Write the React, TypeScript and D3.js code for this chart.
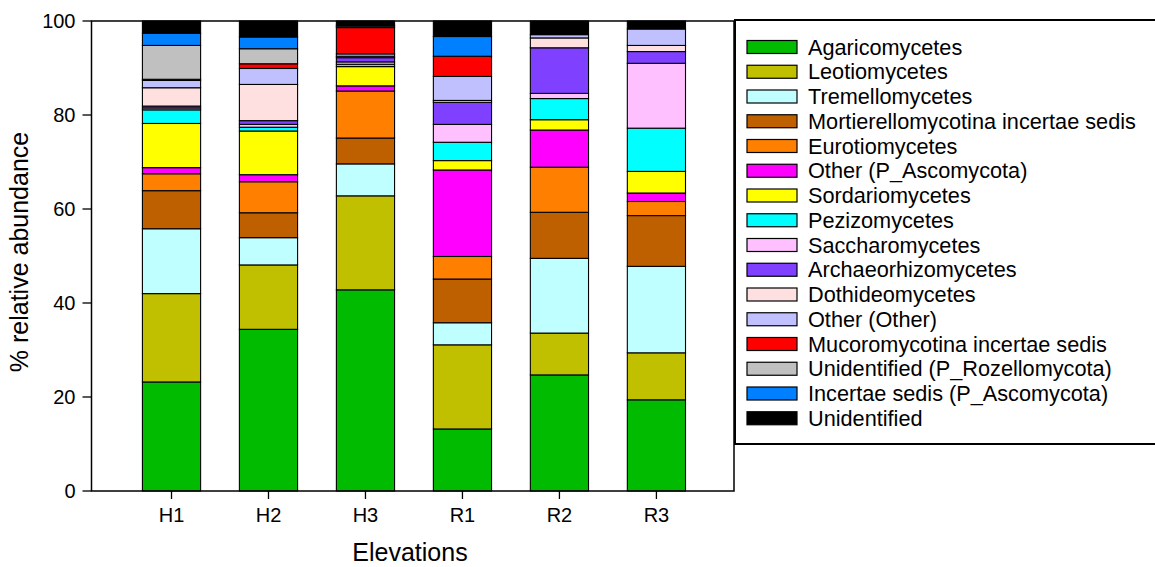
import React from "react";
import * as d3 from "d3";

const categories = ["H1", "H2", "H3", "R1", "R2", "R3"];

const seriesNames = [
  "Agaricomycetes",
  "Leotiomycetes",
  "Tremellomycetes",
  "Mortierellomycotina incertae sedis",
  "Eurotiomycetes",
  "Other (P_Ascomycota)",
  "Sordariomycetes",
  "Pezizomycetes",
  "Saccharomycetes",
  "Archaeorhizomycetes",
  "Dothideomycetes",
  "Other (Other)",
  "Mucoromycotina incertae sedis",
  "Unidentified (P_Rozellomycota)",
  "Incertae sedis (P_Ascomycota)",
  "Unidentified",
];

const agaricomycetes = [23.2, 34.4, 42.8, 13.2, 24.7, 19.4];
const leotiomycetes = [18.8, 13.7, 20.0, 17.9, 8.9, 10.0];
const tremellomycetes = [13.8, 5.8, 6.8, 4.7, 15.9, 18.4];
const mortierellomycotina = [8.1, 5.3, 5.5, 9.3, 9.8, 10.8];
const eurotiomycetes = [3.6, 6.6, 10.0, 4.8, 9.6, 3.0];
const otherAscomycota = [1.3, 1.5, 1.1, 18.4, 7.9, 1.8];
const sordariomycetes = [9.4, 9.3, 4.1, 2.0, 2.2, 4.6];
const pezizomycetes = [2.9, 0.8, 0.5, 3.9, 4.5, 9.2];
const saccharomycetes = [0.4, 0.6, 0.5, 3.8, 1.1, 13.8];
const archaeorhizomycetes = [0.4, 0.8, 0.9, 4.7, 9.7, 2.5];
const dothideomycetes = [3.9, 7.7, 0.3, 0.4, 2.1, 1.3];
const otherOther = [1.55, 3.4, 0.5, 5.1, 0.7, 3.5];
const mucoromycotina = [0.25, 1.0, 5.6, 4.3, 0, 0];
const rozellomycota = [7.2, 3.2, 0.3, 0, 0, 0];
const incertaeSedis = [2.6, 2.5, 0.2, 4.2, 0, 0];
const unidentified = [2.6, 3.4, 0.9, 3.3, 2.9, 1.7];

const seriesValues = [
  agaricomycetes,
  leotiomycetes,
  tremellomycetes,
  mortierellomycotina,
  eurotiomycetes,
  otherAscomycota,
  sordariomycetes,
  pezizomycetes,
  saccharomycetes,
  archaeorhizomycetes,
  dothideomycetes,
  otherOther,
  mucoromycotina,
  rozellomycota,
  incertaeSedis,
  unidentified,
];

const colors = [
  "#00BB00",
  "#C0C000",
  "#C0FFFF",
  "#BF6000",
  "#FF8000",
  "#FF00FF",
  "#FFFF00",
  "#00FFFF",
  "#FFC0FF",
  "#8040FF",
  "#FFE0E0",
  "#C0C0FF",
  "#FF0000",
  "#C0C0C0",
  "#0080FF",
  "#000000",
];

const yTicks = [0, 20, 40, 60, 80, 100];

const FONT = "Arial, 'Liberation Sans', sans-serif";

export default function App() {
  const W = 1155;
  const H = 567;
  const left = 91.5;
  const right = 734;
  const top = 21;
  const bottom = 491;

  const x = d3.scaleLinear().domain([0.175, 6.8]).range([left, right]);
  const y = d3.scaleLinear().domain([0, 100]).range([bottom, top]);
  const barW = x(0.6) - x(0);

  const table = categories.map((c, i) => {
    const row: any = { cat: c, idx: i + 1 };
    seriesNames.forEach((s, k) => (row[s] = seriesValues[k][i]));
    return row;
  });
  const stacked = d3.stack<any>().keys(seriesNames)(table);

  const legX = 747;
  const legY0 = 47;
  const legStep = 24.75;

  return (
    <div style={{ position: "absolute", left: 0, top: 0 }}>
      <svg width={W} height={H} style={{ display: "block", background: "#fff" }}>
        {/* bars */}
        {stacked.map((layer, k) => (
          <g key={k}>
            {layer.map((d, i) => {
              const v = d[1] - d[0];
              if (v <= 0) return null;
              return (
                <rect
                  key={i}
                  x={x(i + 1) - barW / 2}
                  y={y(d[1])}
                  width={barW}
                  height={y(d[0]) - y(d[1])}
                  fill={colors[k]}
                  stroke="#000"
                  strokeWidth={1.1}
                />
              );
            })}
          </g>
        ))}
        {/* frame */}
        <rect x={left} y={top} width={right - left} height={bottom - top} fill="none" stroke="#000" strokeWidth={1.5} />
        {/* y ticks */}
        {yTicks.map((t) => (
          <g key={t}>
            <line x1={left - 9} x2={left} y1={y(t)} y2={y(t)} stroke="#000" strokeWidth={1.3} />
            <text
              x={left - 16}
              y={y(t)}
              textAnchor="end"
              dominantBaseline="central"
              fontFamily={FONT}
              fontSize={20}
              fill="#000"
            >
              {t}
            </text>
          </g>
        ))}
        {/* x ticks */}
        {categories.map((c, i) => (
          <g key={c}>
            <line x1={x(i + 1)} x2={x(i + 1)} y1={bottom} y2={bottom + 8} stroke="#000" strokeWidth={1.3} />
            <text x={x(i + 1)} y={522} textAnchor="middle" fontFamily={FONT} fontSize={20} fill="#000">
              {c}
            </text>
          </g>
        ))}
        {/* axis titles */}
        <text x={410} y={561} textAnchor="middle" fontFamily={FONT} fontSize={25} fill="#000">
          Elevations
        </text>
        <text
          transform={`translate(28, 252) rotate(-90)`}
          textAnchor="middle"
          fontFamily={FONT}
          fontSize={25}
          fill="#000"
        >
          % relative abundance
        </text>
        {/* legend */}
        <rect x={735} y={20} width={440} height={424} fill="#fff" stroke="#000" strokeWidth={2} />
        {seriesNames.map((s, k) => {
          const cy = legY0 + k * legStep;
          return (
            <g key={s}>
              <rect x={legX} y={cy - 6.5} width={50} height={13} fill={colors[k]} stroke="#000" strokeWidth={1.2} />
              <text x={808} y={cy} dominantBaseline="central" fontFamily={FONT} fontSize={21.7} fill="#000">
                {s}
              </text>
            </g>
          );
        })}
      </svg>
    </div>
  );
}
